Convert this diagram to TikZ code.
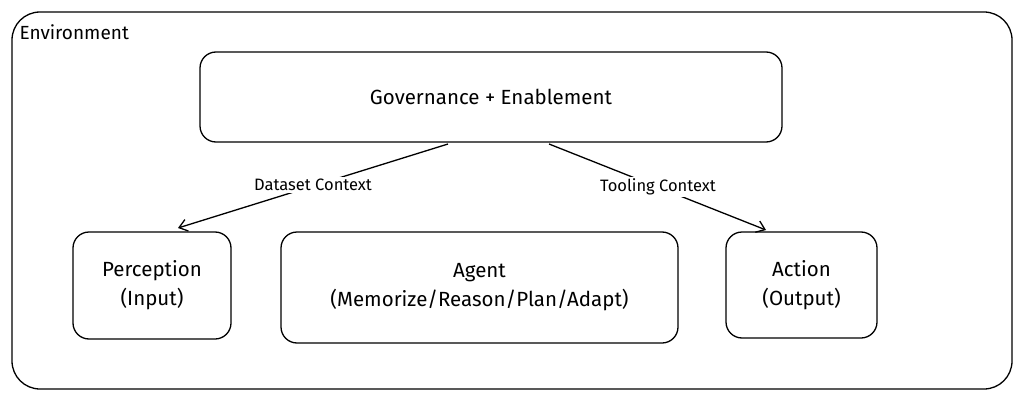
\documentclass[tikz,border=0pt]{standalone}
\usepackage{fontspec}
\setmainfont{Fira Sans}
\usetikzlibrary{arrows.meta}
\begin{document}
\begin{tikzpicture}[x=1pt,y=-1pt,
  box/.style={draw,line width=1.3pt,rounded corners=16pt,align=center,font=\fontsize{20.5}{29}\selectfont},
  lbl/.style={fill=white,inner sep=2pt,font=\fontsize{16.5}{18}\selectfont},
  arr/.style={line width=1.3pt,-{Straight Barb[length=8pt,width=12pt]}}]
\useasboundingbox (0,0) rectangle (1024,401);
\draw[line width=1.3pt,rounded corners=28pt] (12,12) rectangle (1012,389);
\node[anchor=west,font=\fontsize{19}{20}\selectfont] (env) at (16,32) {Environment};
\node[box,minimum width=582pt,minimum height=90pt] (gov) at (491,97) {Governance + Enablement};
\node[box,minimum width=158pt,minimum height=107pt] (perc) at (152,285.5) {Perception\\(Input)};
\node[box,minimum width=397pt,minimum height=111pt] (agent) at (479.5,287.5) {Agent\\(Memorize/Reason/Plan/Adapt)};
\node[box,minimum width=151pt,minimum height=106pt] (act) at (801.5,285) {Action\\(Output)};
\coordinate (g1) at (448,144);
\coordinate (g2) at (549,144);
\coordinate (p1) at (178,228);
\coordinate (a1) at (766,230);
\draw[arr] (g1) -- (p1);
\draw[arr] (g2) -- (a1);
\node[lbl] (l1) at (313,185) {Dataset Context};
\node[lbl] (l2) at (658,187) {Tooling Context};
\end{tikzpicture}
\end{document}
